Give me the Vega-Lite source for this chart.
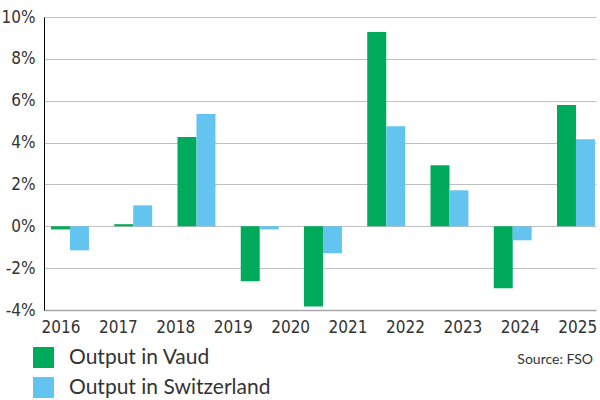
{
  "$schema": "https://vega.github.io/schema/vega-lite/v6.json",
  "width": 552,
  "height": 293,
  "autosize": "none",
  "padding": {"left": 44, "top": 17, "right": 4, "bottom": 90},
  "background": "white",
  "title": {
    "text": "Source: FSO",
    "orient": "bottom",
    "anchor": "end",
    "frame": "group",
    "font": "Lato",
    "fontSize": 14,
    "fontWeight": "normal",
    "color": "#333333",
    "offset": -45,
    "dx": -3
  },
  "config": {
    "view": {"stroke": null},
    "font": "Lato"
  },
  "layer": [
    {
      "data": {
        "values": [
          {"period": "2016", "series": "Output in Vaud", "value": -0.15},
          {"period": "2016", "series": "Output in Switzerland", "value": -1.15},
          {"period": "2017", "series": "Output in Vaud", "value": 0.1},
          {"period": "2017", "series": "Output in Switzerland", "value": 1.0},
          {"period": "2018", "series": "Output in Vaud", "value": 4.27},
          {"period": "2018", "series": "Output in Switzerland", "value": 5.36},
          {"period": "2019", "series": "Output in Vaud", "value": -2.63},
          {"period": "2019", "series": "Output in Switzerland", "value": -0.15},
          {"period": "2020", "series": "Output in Vaud", "value": -3.83},
          {"period": "2020", "series": "Output in Switzerland", "value": -1.29},
          {"period": "2021", "series": "Output in Vaud", "value": 9.28},
          {"period": "2021", "series": "Output in Switzerland", "value": 4.78},
          {"period": "2022", "series": "Output in Vaud", "value": 2.92},
          {"period": "2022", "series": "Output in Switzerland", "value": 1.72},
          {"period": "2023", "series": "Output in Vaud", "value": -2.96},
          {"period": "2023", "series": "Output in Switzerland", "value": -0.67},
          {"period": "2024", "series": "Output in Vaud", "value": 5.79},
          {"period": "2024", "series": "Output in Switzerland", "value": 4.16}
        ]
      },
      "mark": {"type": "bar"},
      "encoding": {
        "x": {
          "field": "period",
          "type": "ordinal",
          "scale": {"paddingInner": 0.4, "paddingOuter": 0.0636, "align": 0.87},
          "axis": null
        },
        "xOffset": {
          "field": "series",
          "type": "nominal",
          "scale": {"domain": ["Output in Vaud", "Output in Switzerland"], "paddingInner": 0, "paddingOuter": 0}
        },
        "y": {
          "field": "value",
          "type": "quantitative",
          "scale": {"domain": [-4, 10], "nice": false, "zero": false},
          "axis": {
            "title": null,
            "values": [-4, -2, 0, 2, 4, 6, 8, 10],
            "labelExpr": "datum.value + '%'",
            "labelFont": "'Liberation Sans Narrow', 'DejaVu Sans Condensed', 'Open Sans', sans-serif",
            "labelFontSize": 17,
            "labelColor": "#333333",
            "labelPadding": 9,
            "ticks": false,
            "domain": true,
            "domainColor": "#000000",
            "domainWidth": 1,
            "grid": true,
            "gridColor": "#c0c0c0",
            "gridWidth": 1
          }
        },
        "color": {
          "field": "series",
          "type": "nominal",
          "scale": {"domain": ["Output in Vaud", "Output in Switzerland"], "range": ["#00aa5b", "#63c5ef"]},
          "legend": {
            "title": null,
            "orient": "none",
            "legendX": -11,
            "legendY": 330,
            "direction": "vertical",
            "padding": 0,
            "symbolType": "square",
            "symbolSize": 441,
            "symbolStrokeWidth": 0,
            "symbolOpacity": 1,
            "labelFont": "Lato",
            "labelFontSize": 21,
            "labelColor": "#333333",
            "labelOffset": 15,
            "rowPadding": 8,
            "labelLimit": 400
          }
        }
      }
    },
    {
      "data": {
        "values": [
          {"year": "2016"}, {"year": "2017"}, {"year": "2018"}, {"year": "2019"}, {"year": "2020"},
          {"year": "2021"}, {"year": "2022"}, {"year": "2023"}, {"year": "2024"}, {"year": "2025"}
        ]
      },
      "mark": {"type": "point", "opacity": 0},
      "encoding": {
        "x": {
          "field": "year",
          "type": "ordinal",
          "scale": {"type": "point", "padding": 0.307, "align": 0.467},
          "axis": {
            "orient": "bottom",
            "title": null,
            "labelAngle": 0,
            "labelFont": "'Liberation Sans Narrow', 'DejaVu Sans Condensed', 'Open Sans', sans-serif",
            "labelFontSize": 17,
            "labelColor": "#333333",
            "labelPadding": 9,
            "ticks": false,
            "domain": true,
            "domainColor": "#a6a6a6",
            "domainWidth": 1.5,
            "grid": false
          }
        }
      }
    }
  ],
  "resolve": {"scale": {"x": "independent"}}
}
